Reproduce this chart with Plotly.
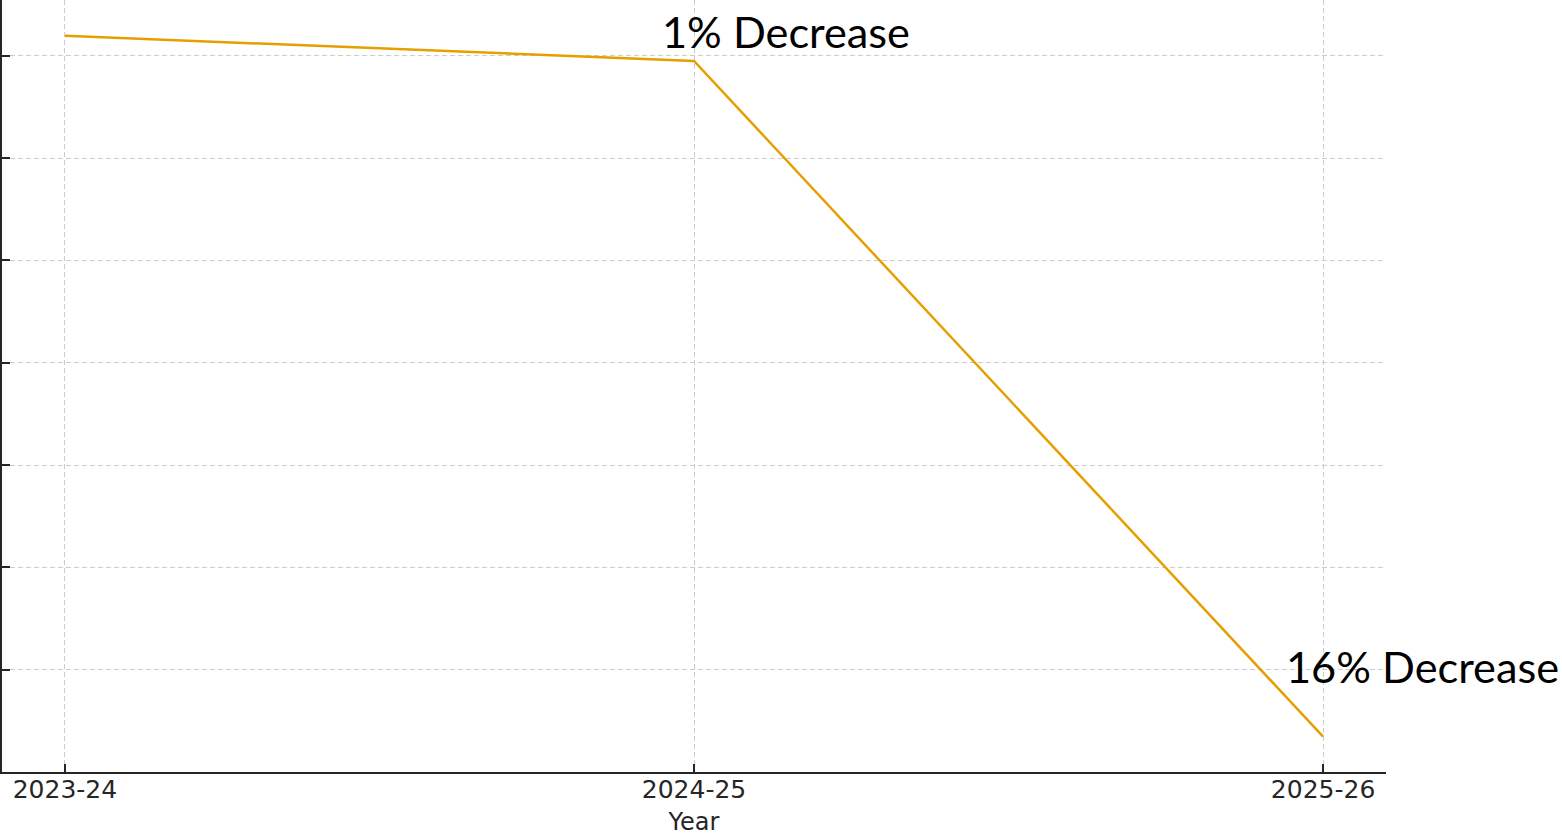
import plotly.graph_objects as go

years = ["2023-24", "2024-25", "2025-26"]
values = [719.5, 694.8, 34.5]
y_ticks = [100, 200, 300, 400, 500, 600, 700]
labels = ["1% Decrease", "16% Decrease"]
label_x = [0.9465, 1.938]
label_y = [724, 104]

fig = go.Figure()
fig.add_trace(go.Scatter(
    x=[0, 1, 2], y=values, mode="lines",
    line=dict(color="#E69F00", width=2.5),
    hoverinfo="skip", showlegend=False,
))

for t, x, y in zip(labels, label_x, label_y):
    fig.add_annotation(
        x=x, y=y, xref="x", yref="y", text=t, showarrow=False,
        xanchor="left", yanchor="middle",
        font=dict(family="Lato", size=43.3, color="#000000"),
    )

axis_common = dict(
    showgrid=True, gridcolor="#cccccc", gridwidth=1, griddash="5px,3px",
    showline=True, linecolor="#262626", linewidth=2,
    ticks="inside", ticklen=8, tickwidth=1.5, tickcolor="#262626",
    zeroline=False, mirror=False,
)

fig.update_layout(
    width=1562, height=836,
    margin=dict(l=2, r=176, t=0, b=64, pad=0),
    paper_bgcolor="white", plot_bgcolor="white",
    font=dict(family="DejaVu Sans", size=25, color="#262626"),
    xaxis=dict(
        tickmode="array", tickvals=[0, 1, 2], ticktext=years,
        range=[-0.1, 2.1], ticklabelstandoff=-6,
        title=dict(text="Year", font=dict(size=24, family="DejaVu Sans"), standoff=13),
        automargin=False,
        **axis_common,
    ),
    yaxis=dict(
        tickmode="array", tickvals=y_ticks, showticklabels=False,
        range=[0, 754.4], automargin=False,
        **axis_common,
    ),
)

fig.write_html("out.html", config={"displayModeBar": False},
               post_script="document.body.style.margin='0';")
